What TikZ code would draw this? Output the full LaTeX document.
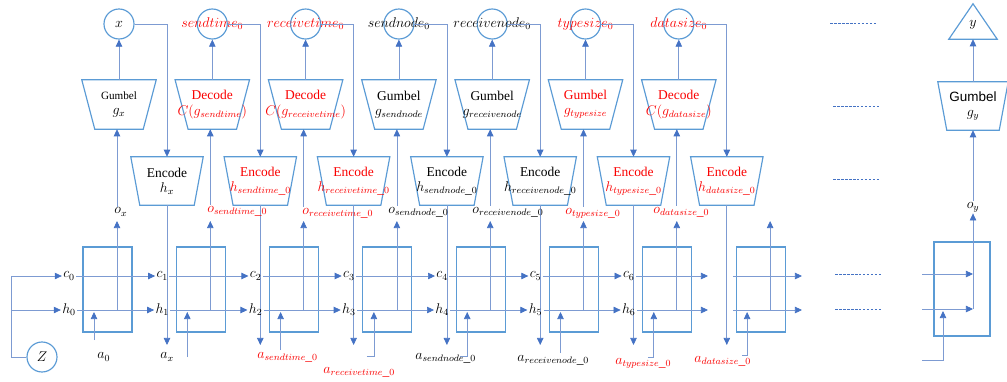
\documentclass[tikz,border=0pt]{standalone}
\usepackage{fontspec}
\setmainfont{Liberation Serif}
\newfontfamily\sansf{Liberation Sans}
\usetikzlibrary{arrows.meta}

\begin{document}
\begin{tikzpicture}[x=0.03cm, y=-0.03cm,
  every node/.style={font=\fontsize{11.5}{13}\selectfont, inner sep=1pt},
  flecha/.style={draw=lineaz, line width=0.6pt, -{Triangle[length=6pt,width=5.5pt,color=puntaz]}},
  borde/.style={draw=bordez, line width=1pt},
  circulo/.style={circle, borde, minimum size=0.9cm, inner sep=0pt},
  caja/.style={inner sep=0pt, minimum width=2.22cm, minimum height=1.47cm},
  cajaenc/.style={inner sep=0pt, minimum width=2.16cm, minimum height=1.44cm},
  celda/.style={borde, minimum width=1.47cm, minimum height=2.55cm, inner sep=0pt},
  puntos/.style={draw=puntaz, line width=0.8pt, dash pattern=on 2.2pt off 1.2pt},
]

\definecolor{bordez}{RGB}{91,155,213}
\definecolor{lineaz}{RGB}{125,155,210}
\definecolor{puntaz}{RGB}{68,114,196}
\definecolor{rojo}{RGB}{250,0,0}

\def\sep{93.3}
% trapecio invertido sobre un nodo: nombre, recorte abajo
\def\trapecio#1#2{\draw[borde] (#1.north west) -- (#1.north east)
  -- ([xshift=-#2]#1.south east) -- ([xshift=#2]#1.south west) -- cycle;}

\useasboundingbox (0,0) rectangle (1007,381);

% === CELDAS ===
\foreach \i in {0,...,7}{
  \pgfmathsetmacro\L{83+\sep*\i}
  \node[celda] (b\i) at (\L+24.5,289.5) {};
  \coordinate (oh\i) at (\L+34,310);
  \coordinate (ih\i) at (\L+11,312);
}

% niveles
\coordinate (olev) at (0,221);
\coordinate (alev) at (0,345);

% === COLUMNAS (salida, gumbel/decode, encode) ===
\foreach \i/\sal/\blq/\hs/\tc in {
  0/{x}/{{\fontsize{9.5}{11}\selectfont Gumbel}\\$g_x$}/{x}/black,
  1/{sendtime_0}/{Decode\\$C(g_{sendtime})$}/{sendtime\_0}/rojo,
  2/{receivetime_0}/{Decode\\$C(g_{receivetime})$}/{receivetime\_0}/rojo,
  3/{sendnode_0}/{Gumbel\\$g_{sendnode}$}/{sendnode\_0}/black,
  4/{receivenode_0}/{Gumbel\\$g_{receivenode}$}/{receivenode\_0}/black,
  5/{typesize_0}/{Gumbel\\$g_{typesize}$}/{typesize\_0}/rojo,
  6/{datasize_0}/{Decode\\$C(g_{datasize})$}/{datasize\_0}/rojo}{
  \pgfmathsetmacro\L{83+\sep*\i}
  \node[circulo] (s\i) at (\L+36,24) {};
  \node[text=\tc] (st\i) at (s\i) {$\sal$};
  \node[caja] (g\i) at (\L+36,104.5) {};
  \trapecio{g\i}{0.39cm}
  \node[align=center, text=\tc] (gt\i) at (g\i) {\blq};
  \node[cajaenc] (e\i) at (\L+84,181) {};
  \trapecio{e\i}{0.27cm}
  \node[align=center, text=\tc] (et\i) at (e\i) {Encode\\$h_{\hs}$};
  \draw[flecha] (g\i.north) -- (s\i.south);
  \draw[flecha] (s\i.east) -| (e\i.north);
  \draw[flecha] (e\i.south) -- (e\i.south |- alev);
}

% === ETIQUETAS o ===
\foreach \i/\xx/\yy/\txt/\tc in {
  0/113/212/{o_x}/black,
  1/206/211/{o_{sendtime\_0}}/rojo,
  2/301/213/{o_{receivetime\_0}}/rojo,
  3/387/212/{o_{sendnode\_0}}/black,
  4/471/212/{o_{receivenode\_0}}/black,
  5/564/213/{o_{typesize\_0}}/rojo,
  6/652/212/{o_{datasize\_0}}/rojo}{
  \node[anchor=west, text=\tc] (o\i) at (\xx,\yy) {$\txt$};
  \draw[flecha] (oh\i |- o\i.north) -- (oh\i |- g\i.south);
}
\foreach \i in {0,...,7}{
  \draw[flecha] (oh\i) -- (oh\i |- olev);
}

% === ETIQUETAS a ===
\foreach \i/\xx/\yy/\txt/\tc in {
  0/96/357/{a_0}/black,
  1/159/357/{a_x}/black,
  2/256/357/{a_{sendtime\_0}}/rojo,
  3/322/372/{a_{receivetime\_0}}/rojo,
  4/414/358/{a_{sendnode\_0}}/black,
  5/516/360/{a_{receivenode\_0}}/black,
  6/614/363/{a_{typesize\_0}}/rojo,
  7/693/361/{a_{datasize\_0}}/rojo}{
  \node[anchor=west, text=\tc] (a\i) at (\xx,\yy) {$\txt$};
}

% entradas a las celdas
\foreach \i/\dx/\sy in {0/0/340,1/0/357,2/0/350,3/7/356,4/7/356,5/0/353,6/6/357,7/5/355}{
  \pgfmathsetmacro\L{83+\sep*\i}
  \coordinate (in\i) at (\L+11-\dx,\sy);
  \draw[flecha] (in\i) -| (ih\i);
}

% === ESTADOS c / h ===
\foreach \k in {0,...,6}{
  \pgfmathsetmacro\L{83+\sep*\k}
  \node (c\k) at (\L-14,276) {$c_{\k}$};
  \node (h\k) at (\L-14,310) {$h_{\k}$};
}
\foreach \k in {0,...,5}{
  \pgfmathtruncatemacro\j{\k+1}
  \draw[flecha] (c\k) -- (c\j);
  \draw[flecha] (h\k) -- (h\j);
}
\coordinate (cA) at (708,276); \coordinate (hA) at (708,310);
\coordinate (cB) at (733,276); \coordinate (hB) at (733,310);
\coordinate (cC) at (802,276); \coordinate (hC) at (802,310);
\draw[flecha] (c6) -- (cA);
\draw[flecha] (h6) -- (hA);
\draw[flecha] (cB) -- (cC);
\draw[flecha] (hB) -- (hC);

% === Z ===
\node[circulo] (z) at (42,357) {$Z$};
\coordinate (zs) at (11,310);
\draw[flecha] (z.west) -- (z.west -| zs) |- (c0.west);
\draw[flecha] (zs) -- (h0.west);

% === PUNTOS ===
\draw[puntos] (830,23) -- (877,23);
\draw[puntos] (833,106) -- (880,106);
\draw[puntos] (833,179) -- (880,179);
\draw[puntos] (835,274) -- (882,274);
\draw[puntos] (835,309) -- (882,309);

% === ULTIMA CELDA ===
\node[celda, minimum width=1.68cm, minimum height=2.82cm] (bF) at (962,289) {};
\coordinate (cF) at (922,274);
\coordinate (hF) at (922,309);
\coordinate (ohF) at (973,309);
\draw[flecha] (cF) -- (cF -| ohF);
\draw[flecha] (hF) -- (ohF);
\coordinate (inF) at (922,360);
\coordinate (ihF) at (943,311);
\draw[flecha] (inF) -| (ihF);
\node (oy) at (973,207) {$o_y$};
\draw[flecha] (ohF) -- (ohF |- oy.south);
\node[cajaenc, minimum width=2.1cm] (gy) at (973,106) {};
\trapecio{gy}{0.27cm}
\node[align=center, font=\sansf\fontsize{11.5}{13}\selectfont] (gyt) at (gy) {Gumbel\\$g_y$};
\draw[flecha] (ohF |- oy.north) -- (ohF |- gy.south);
\node[inner sep=0pt, minimum width=1.44cm, minimum height=1.05cm] (ys) at (973,21.5) {};
\draw[borde] (ys.south west) -- (ys.north) -- (ys.south east) -- cycle;
\node (yt) at ([yshift=-0.1cm]ys.center) {$y$};
\draw[flecha] (gy.north) -- (ys.south);

\end{tikzpicture}
\end{document}
